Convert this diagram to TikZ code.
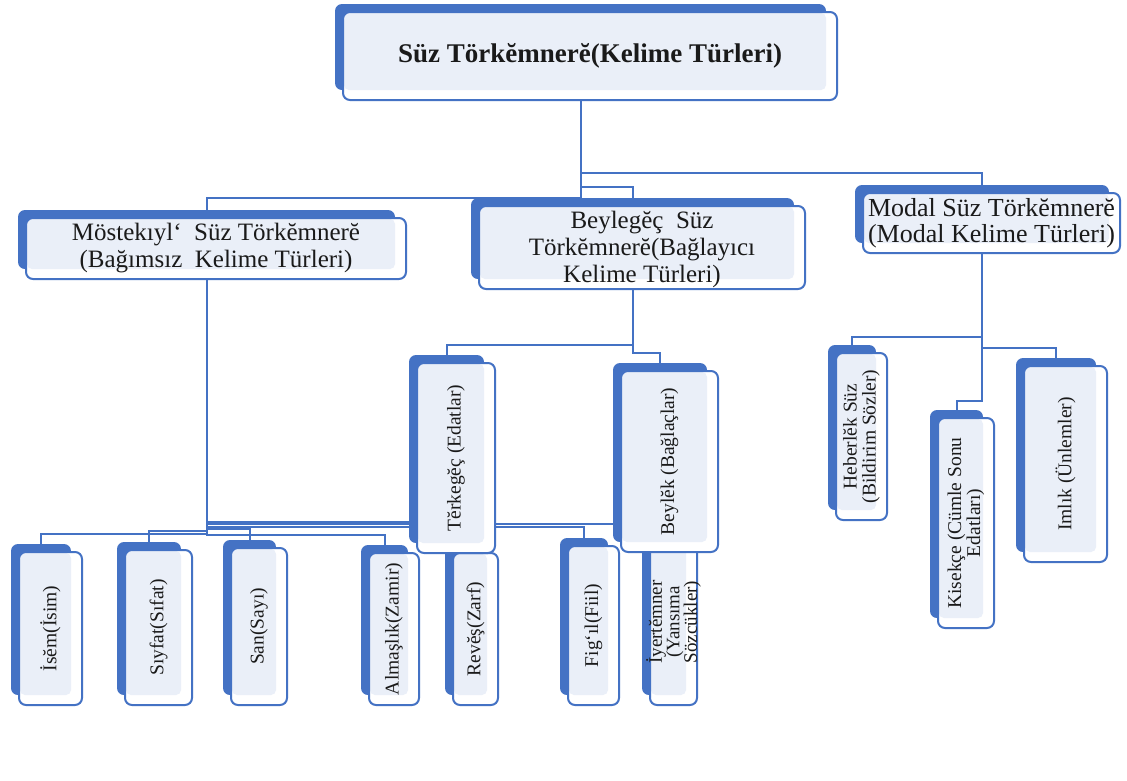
\documentclass[tikz,border=0pt]{standalone}
\usepackage{fontspec}
\setmainfont{Liberation Serif}
\usetikzlibrary{backgrounds}
\definecolor{bluec}{HTML}{4472C4}
\definecolor{lightc}{HTML}{EAEFF8}
\definecolor{txtc}{HTML}{1A1A1A}
\tikzset{
 backbox/.style={fill=bluec, rounded corners=7pt, inner sep=0pt, outer sep=0pt},
 frontbox/.style={draw=bluec, line width=2pt, fill=white, rounded corners=7pt, inner sep=0pt, outer sep=0pt,
   path picture={\fill[lightc, rounded corners=5pt] ([xshift=1pt,yshift=-1pt]path picture bounding box.north west) rectangle ([xshift=-11pt,yshift=10pt]path picture bounding box.south east);}},
 conn/.style={draw=bluec, line width=2pt},
 lbl/.style={text=txtc, inner sep=0pt, align=center},
 vlbl/.style={lbl, rotate=90, font=\fontsize{19.5}{19}\selectfont},
}
\newcommand\cbox[5]{%
  \node[backbox, minimum width={(#4-#2-3)*1pt}, minimum height={(#5-#3-2)*1pt}] (#1-b) at ({(#2+#4)/2-9.5},{(#3+#5)/2-9}) {};
  \node[frontbox, minimum width={(#4-#2)*1pt}, minimum height={(#5-#3)*1pt}] (#1) at ({(#2+#4)/2},{(#3+#5)/2}) {};
}
\begin{document}
\begin{tikzpicture}[x=1pt,y=-1pt]
\useasboundingbox (0,0) rectangle (1127,780);
\begin{pgfonlayer}{background}
\fill[white] (0,0) rectangle (1127,780);
\end{pgfonlayer}

% top
\cbox{t}{343}{12}{837}{100}
\node[lbl, font=\bfseries\fontsize{27}{30}\selectfont] (t-t) at (t.center) {Süz Törkĕmnerĕ(Kelime Türleri)};

% level 2
\cbox{m}{26}{218}{406}{279}
\node[lbl, font=\fontsize{25}{27}\selectfont] (m-t) at (m.center) {Möstekıyl‘\ \ Süz Törkĕmnerĕ\\(Bağımsız\ \ Kelime Türleri)};
\cbox{b}{479}{206}{805}{289}
\node[lbl, font=\fontsize{25}{27}\selectfont] (b-t) at ([yshift=-2pt]b.center) {Beylegĕç\ \ Süz\\Törkĕmnerĕ(Bağlayıcı\\Kelime Türleri)};
\cbox{d}{863}{193}{1120}{253}
\node[lbl, font=\fontsize{26}{26}\selectfont] (d-t) at (d.center) {Modal Süz Törkĕmnerĕ\\(Modal Kelime Türleri)};

% lower row
\cbox{i1}{19}{552}{82}{705}
\node[vlbl] (i1-t) at (i1.center) {İsĕm(İsim)};
\cbox{i2}{125}{550}{192}{705}
\node[vlbl] (i2-t) at (i2.center) {Sıyfat(Sıfat)};
\cbox{i3}{231}{548}{287}{705}
\node[vlbl] (i3-t) at (i3.center) {San(Sayı)};
\cbox{i4}{369}{553}{419}{705}
\node[vlbl] (i4-t) at (i4.center) {Almaşlık(Zamir)};
\cbox{i5}{453}{553}{498}{705}
\node[vlbl] (i5-t) at (i5.center) {Revĕş(Zarf)};
\cbox{i6}{568}{546}{619}{705}
\node[vlbl] (i6-t) at (i6.center) {Fig‘ıl(Fiil)};
\cbox{i7}{650}{545}{697}{705}
\node[vlbl, font=\fontsize{19}{17.5}\selectfont] (i7-t) at ([yshift=3pt]i7.center) {İyertĕmner\\(Yansıma\\Sözcükler)};

% Beylegec children
\cbox{e1}{417}{363}{495}{553}
\node[vlbl] (e1-t) at (e1.center) {Tĕrkegĕç (Edatlar)};
\cbox{e2}{621}{371}{718}{552}
\node[vlbl] (e2-t) at (e2.center) {Beylĕk (Bağlaçlar)};

% Modal children
\cbox{r1}{836}{353}{887}{520}
\node[vlbl] (r1-t) at (r1.center) {Heberlĕk Süz\\(Bildirim Sözler)};
\cbox{r2}{938}{418}{994}{628}
\node[vlbl] (r2-t) at (r2.center) {Kisekçe (Cümle Sonu\\Edatları)};
\cbox{r3}{1024}{366}{1107}{562}
\node[vlbl] (r3-t) at (r3.center) {Imlık (Ünlemler)};

\begin{pgfonlayer}{background}
\draw[conn] (t-b.south |- t.south) -- ++(0,98) -| (m-b.north);
\draw[conn] (t-b.south |- t.south) -- ++(0,87) -| (b-b.north);
\draw[conn] (t-b.south |- t.south) -- ++(0,73) -| (d-b.north);
\draw[conn] (m-b.south |- m.south) -- ++(0,255) -| (i1-b.north);
\draw[conn] (m-b.south |- m.south) -- ++(0,252) -| (i2-b.north);
\draw[conn] (m-b.south |- m.south) -- ++(0,250) -| (i3-b.north);
\draw[conn] (m-b.south |- m.south) -- ++(0,256) -| (i4-b.north);
\draw[conn] (m-b.south |- m.south) -- ++(0,243) -| (i5-b.north);
\draw[conn] (m-b.south |- m.south) -- ++(0,248) -| (i6-b.north);
\draw[conn] (m-b.south |- m.south) -- ++(0,245) -| (i7-b.north);
\draw[conn] (b-b.south |- b.south) -- ++(0,56) -| (e1-b.north);
\draw[conn] (b-b.south |- b.south) -- ++(0,64) -| (e2-b.north);
\draw[conn] (d-b.south |- d.south) -- ++(0,84) -| (r1-b.north);
\draw[conn] (d-b.south |- d.south) -- ++(0,95) -| (r3-b.north);
\draw[conn] (d-b.south |- d.south) -- ++(0,148) -| (r2-b.north);
\end{pgfonlayer}
\end{tikzpicture}
\end{document}
